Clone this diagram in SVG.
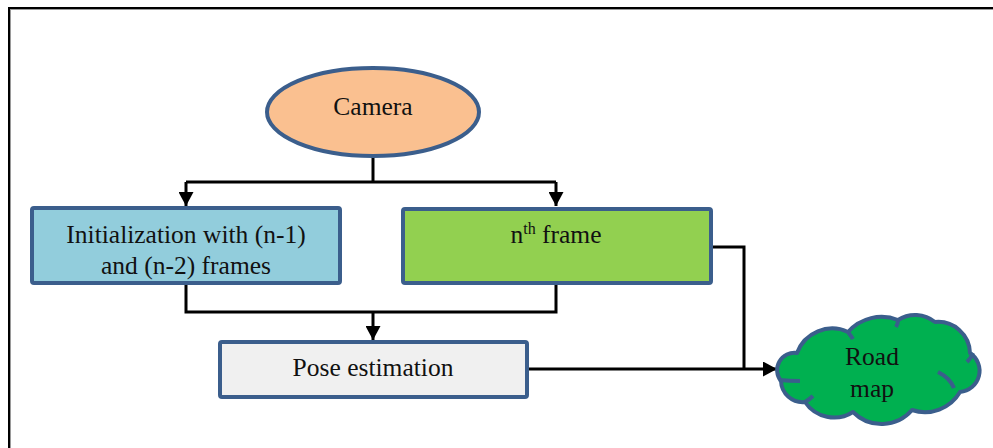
<svg xmlns="http://www.w3.org/2000/svg" width="993" height="448" viewBox="0 0 993 448">
<defs>
<style>
.box{stroke:#3b5e8c;stroke-width:4;stroke-linejoin:round}
.t{font-family:"Liberation Serif","Times New Roman",serif;font-size:25.5px;fill:#111;text-anchor:middle}
.c{fill:none;stroke:#000;stroke-width:3}
</style>
<marker id="ah" viewBox="0 0 14 15" refX="14" refY="7.5" markerWidth="14" markerHeight="15" markerUnits="userSpaceOnUse" orient="auto">
<path d="M0,0 L14,7.5 L0,15 Z" fill="#000"/>
</marker>
</defs>
<rect width="993" height="448" fill="#fff"/>
<rect x="9" y="8" width="1000" height="500" fill="none" stroke="#000" stroke-width="2"/>
<rect x="10.5" y="9.5" width="1000" height="500" fill="none" stroke="#9a9a9a" stroke-width="1"/>

<g id="connectors">
<path class="c" d="M373,158 V182"/>
<path class="c" d="M186,182 H556"/>
<path class="c" d="M186,182 V206" marker-end="url(#ah)"/>
<path class="c" d="M556,182 V206" marker-end="url(#ah)"/>
<path class="c" d="M186,285 V312 H556 V285"/>
<path class="c" d="M373,312 V340" marker-end="url(#ah)"/>
<path class="c" d="M713,247 H744 V369"/>
<path class="c" d="M529,369 H777" marker-end="url(#ah)"/>
</g>

<g id="camera">
<ellipse cx="373" cy="112" rx="106" ry="44" fill="#fac090" class="box"/>
<text class="t" x="373" y="115">Camera</text>
</g>

<g id="init">
<rect x="32" y="208" width="308" height="75" rx="2" fill="#92cddc" class="box"/>
<text class="t" x="186" y="243">Initialization with (n-1)</text>
<text class="t" x="186" y="274">and (n-2) frames</text>
</g>

<g id="nframe">
<rect x="403" y="209" width="308" height="74" rx="2" fill="#92d050" class="box"/>
<text class="t" x="556" y="243">n<tspan font-size="16" dy="-9">th</tspan><tspan dy="9"> frame</tspan></text>
</g>

<g id="pose">
<rect x="220" y="342" width="307" height="55" rx="2" fill="#f0f0f0" class="box"/>
<text class="t" x="373" y="376">Pose estimation</text>
</g>

<g id="roadmap">
<path d="M781,381 A17.3,17.3 0 0 1 797,353 A37.5,37.5 0 0 1 848,332 A45,45 0 0 1 898,320 A31.5,31.5 0 0 1 935,322 A32,32 0 0 1 970,353 A21.3,21.3 0 0 1 960,392 A40.6,40.6 0 0 1 912,410 A40,40 0 0 1 853,412 A35,35 0 0 1 805,402 A21.8,21.8 0 0 1 781,381 Z" fill="#00b050" class="box"/>
<path d="M779,380 Q790,381 800,381 M967,362 Q971,358 973,353 M938,372 Q950,378 954,388 M848,332 Q851,336 853,339 M898,320 Q898,324 896,327 M805,402 Q810,399 813,396" fill="none" stroke="#3b5e8c" stroke-width="4"/>
<text class="t" x="872" y="365">Road</text>
<text class="t" x="872" y="397">map</text>
</g>
</svg>
